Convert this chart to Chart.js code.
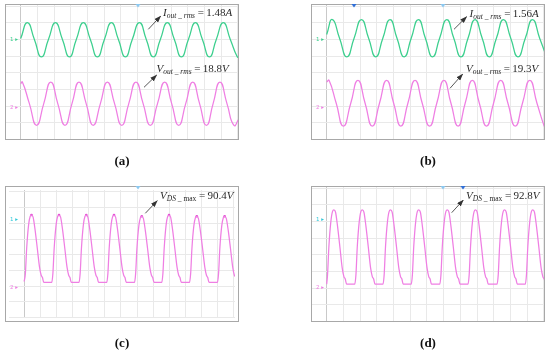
<!DOCTYPE html>
<html><head><meta charset="utf-8">
<script src="https://cdn.jsdelivr.net/npm/chart.js@4.4.1/dist/chart.umd.min.js"></script>
<style>
body{margin:0;background:#fff;}
#wrap{position:relative;width:550px;height:351px;overflow:hidden;background:#fff;}
.panel{position:absolute;width:234px;height:136px;}
.panel canvas{position:absolute;left:0;top:0;}
.frame{position:absolute;left:0;top:0;width:234px;height:136px;box-sizing:border-box;border:1.5px solid #a8a8a8;pointer-events:none;}
.ann{position:absolute;white-space:nowrap;color:#2a2a2a;font-family:'Liberation Serif',serif;font-size:11px;line-height:11px;}
.ann sub{font-size:7.5px;line-height:0;vertical-align:-2px;}
.lab{position:absolute;font-family:'Liberation Serif',serif;font-weight:bold;font-size:13px;line-height:13px;transform:translateX(-50%);color:#111;}
.ch{position:absolute;font-family:'DejaVu Sans',sans-serif;font-size:5.5px;line-height:6px;}
svg{position:absolute;left:0;top:0;}
</style>
</head><body>
<div id="wrap">
  <div class="panel" style="left:5px;top:4px"><canvas id="ca" width="234" height="136"></canvas><div class="frame"></div></div>
  <div class="panel" style="left:311px;top:4px"><canvas id="cb" width="234" height="136"></canvas><div class="frame"></div></div>
  <div class="panel" style="left:5px;top:186px"><canvas id="cc" width="234" height="136"></canvas><div class="frame"></div></div>
  <div class="panel" style="left:311px;top:186px"><canvas id="cd" width="234" height="136"></canvas><div class="frame"></div></div>

  <div class="ch" style="left:10px;top:36px;color:#3ccf8e">1 ▸</div>
  <div class="ch" style="left:10px;top:104px;color:#ef7fe3">2 ▸</div>
  <div class="ch" style="left:316px;top:36px;color:#3ccf8e">1 ▸</div>
  <div class="ch" style="left:316px;top:104px;color:#ef7fe3">2 ▸</div>
  <div class="ch" style="left:10px;top:216px;color:#30c8d8">1 ▸</div>
  <div class="ch" style="left:10px;top:284px;color:#ef7fe3">2 ▸</div>
  <div class="ch" style="left:316px;top:216px;color:#30c8d8">1 ▸</div>
  <div class="ch" style="left:316px;top:284px;color:#ef7fe3">2 ▸</div>

  <svg width="550" height="351">
    <defs><marker id="ah" markerWidth="7" markerHeight="5" refX="6.5" refY="2.5" orient="auto" markerUnits="userSpaceOnUse"><path d="M0,0 L7,2.5 L0,5 z" fill="#333"/></marker></defs>
    <g stroke="#444" stroke-width="0.9" marker-end="url(#ah)">
      <line x1="148.3" y1="29.3" x2="160.7" y2="16"/>
      <line x1="144" y1="87.3" x2="156.7" y2="75"/>
      <line x1="454" y1="29.3" x2="466.7" y2="16.7"/>
      <line x1="450" y1="88.3" x2="462.7" y2="74"/>
      <line x1="145.3" y1="213.3" x2="157.3" y2="200.7"/>
      <line x1="451.7" y1="212.7" x2="463.3" y2="200"/>
    </g>
    <g>
      <path d="M135.5,4 L140.5,4 L138,7.5 z" fill="#8cc8f0"/>
      <path d="M351.5,4 L356.5,4 L354,7.5 z" fill="#2f6fd8"/>
      <path d="M440.5,4 L445.5,4 L443,7.5 z" fill="#8cc8f0"/>
      <path d="M135.5,186 L140.5,186 L138,189.5 z" fill="#8cc8f0"/>
      <path d="M440.5,186 L445.5,186 L443,189.5 z" fill="#8cc8f0"/>
      <path d="M460.5,186 L465.5,186 L463,189.5 z" fill="#2f6fd8"/>
    </g>
  </svg>

  <div class="ann" style="left:163px;top:7.3px"><i>I</i><sub><i>out _ rms</i></sub> =&thinsp;1.48<i>A</i></div>
  <div class="ann" style="left:156.5px;top:63.3px"><i>V</i><sub><i>out _ rms</i></sub> =&thinsp;18.8<i>V</i></div>
  <div class="ann" style="left:469.5px;top:7.8px"><i>I</i><sub><i>out _ rms</i></sub> =&thinsp;1.56<i>A</i></div>
  <div class="ann" style="left:466px;top:62.8px"><i>V</i><sub><i>out _ rms</i></sub> =&thinsp;19.3<i>V</i></div>
  <div class="ann" style="left:160px;top:189.8px"><i>V</i><sub><i>DS</i> _ max</sub> =&thinsp;90.4<i>V</i></div>
  <div class="ann" style="left:466px;top:189.8px"><i>V</i><sub><i>DS</i> _ max</sub> =&thinsp;92.8<i>V</i></div>

  <div class="lab" style="left:122px;top:154px">(a)</div>
  <div class="lab" style="left:428px;top:154px">(b)</div>
  <div class="lab" style="left:122px;top:336px">(c)</div>
  <div class="lab" style="left:428px;top:336px">(d)</div>
</div>
<script>
// Time axis in screen divisions, vertical axis in divisions (0 = bottom graticule line)
const gridX = [0,1,2,3,4,5,6,7,8,9,10,11,12,13];
const gridY = [0,1,2,3,4,5,6,7,8];

// (a) output current (green) and output voltage (magenta)
const tGreenA = [0,0.40,0.82,1.24,1.66,2.08,2.50,2.92,3.33,3.75,4.17,4.59,5.01,5.43,5.85,6.27,6.68,7.11,7.52,7.94,8.36,8.78,9.20,9.62,10.04,10.46,10.88,11.30,11.71,12.13,12.55,12.97,13.07];
const vGreenA = [6.05,7.0,6.0,4.95,6.0,7.0,6.0,4.95,6.0,7.0,6.0,4.95,6.0,7.0,6.0,4.95,6.0,7.0,6.0,4.95,6.0,7.0,6.0,4.95,6.0,7.0,6.0,4.95,6.0,7.0,6.0,4.95,5.0];
const tMagA = [0,0.10,0.52,0.95,1.38,1.80,2.22,2.65,3.07,3.49,3.92,4.34,4.77,5.19,5.62,6.05,6.47,6.90,7.33,7.76,8.19,8.62,9.04,9.46,9.88,10.30,10.71,11.12,11.52,11.93,12.35,12.77,13.07];
const vMagA = [3.35,3.45,2.16,0.86,2.16,3.45,2.16,0.86,2.16,3.45,2.16,0.86,2.16,3.45,2.16,0.86,2.16,3.45,2.16,0.86,2.16,3.45,2.16,0.86,2.16,3.45,2.16,0.86,2.16,3.45,2.16,0.86,1.25];

// (b)
const tGreenB = [0,0.34,0.77,1.21,1.64,2.08,2.51,2.94,3.36,3.79,4.21,4.64,5.06,5.49,5.91,6.34,6.76,7.19,7.61,8.04,8.46,8.88,9.31,9.73,10.16,10.58,11.02,11.45,11.89,12.32,12.75,13.07];
const vGreenB = [6.3,7.19,6.07,4.95,6.07,7.19,6.07,4.95,6.07,7.19,6.07,4.95,6.07,7.19,6.07,4.95,6.07,7.19,6.07,4.95,6.07,7.19,6.07,4.95,6.07,7.19,6.07,4.95,6.07,7.19,6.07,5.2];
const tMagB = [0,0.14,0.57,1.00,1.44,1.87,2.30,2.73,3.16,3.59,4.01,4.44,4.86,5.29,5.72,6.16,6.59,7.02,7.44,7.87,8.29,8.72,9.14,9.57,9.99,10.42,10.85,11.29,11.72,12.16,12.59,13.02,13.07];
const vMagB = [3.45,3.55,2.18,0.81,2.18,3.55,2.18,0.81,2.18,3.55,2.18,0.81,2.18,3.55,2.18,0.81,2.18,3.55,2.18,0.81,2.18,3.55,2.18,0.81,2.18,3.55,2.18,0.81,2.18,3.55,2.18,0.81,0.82];

// (c) drain-source voltage
const tDsC = [0,0.075,0.155,0.275,0.375,0.455,0.555,0.675,0.815,0.955,1.055,1.135,1.215,
  1.71,1.78,1.86,1.98,2.08,2.16,2.26,2.38,2.52,2.66,2.76,2.84,2.92,
  3.40,3.47,3.55,3.67,3.77,3.85,3.95,4.07,4.21,4.35,4.45,4.53,4.61,
  5.12,5.19,5.27,5.39,5.49,5.57,5.67,5.79,5.93,6.07,6.17,6.25,6.33,
  6.84,6.91,6.99,7.11,7.21,7.29,7.39,7.51,7.65,7.79,7.89,7.97,8.05,
  8.53,8.60,8.68,8.80,8.90,8.98,9.08,9.20,9.34,9.48,9.58,9.66,9.74,
  10.25,10.32,10.40,10.52,10.62,10.70,10.80,10.92,11.06,11.20,11.30,11.38,11.46,
  11.98,12.05,12.13,12.25,12.35,12.43,12.53,12.65,12.79,12.93,13.03,13.07];
const vDsC = [2.3,2.8,4.4,5.9,6.45,6.53,6.4,5.6,4.4,3.2,2.7,2.55,2.25,
  2.25,2.8,4.4,5.9,6.45,6.53,6.4,5.6,4.4,3.2,2.7,2.55,2.25,
  2.25,2.8,4.4,5.9,6.45,6.53,6.4,5.6,4.4,3.2,2.7,2.55,2.25,
  2.25,2.8,4.4,5.9,6.45,6.53,6.4,5.6,4.4,3.2,2.7,2.55,2.25,
  2.25,2.8,4.4,5.85,6.37,6.45,6.32,5.55,4.4,3.2,2.7,2.55,2.25,
  2.25,2.8,4.4,5.9,6.45,6.53,6.4,5.6,4.4,3.2,2.7,2.55,2.25,
  2.25,2.8,4.4,5.85,6.37,6.45,6.32,5.55,4.4,3.2,2.7,2.55,2.25,
  2.25,2.8,4.4,5.85,6.37,6.45,6.32,5.55,4.4,3.2,2.7,2.62];
const tPeakC = [0.455,2.16,3.85,5.57,7.29,8.98,10.70,12.43];
const vPeakC = [6.53,6.53,6.53,6.53,6.45,6.53,6.45,6.45];

// (d)
const tDsD = [0,0.05,0.13,0.25,0.35,0.43,0.53,0.65,0.79,0.93,1.03,1.11,1.19,
  1.68,1.75,1.83,1.95,2.05,2.13,2.23,2.35,2.49,2.63,2.73,2.81,2.89,
  3.37,3.44,3.52,3.64,3.74,3.82,3.92,4.04,4.18,4.32,4.42,4.50,4.58,
  5.06,5.13,5.21,5.33,5.43,5.51,5.61,5.73,5.87,6.01,6.11,6.19,6.27,
  6.77,6.84,6.92,7.04,7.14,7.22,7.32,7.44,7.58,7.72,7.82,7.90,7.98,
  8.46,8.53,8.61,8.73,8.83,8.91,9.01,9.13,9.27,9.41,9.51,9.59,9.67,
  10.20,10.27,10.35,10.47,10.57,10.65,10.75,10.87,11.01,11.15,11.25,11.33,11.41,
  11.89,11.96,12.04,12.16,12.26,12.34,12.44,12.56,12.70,12.84,12.94,13.02,13.07];
const vDsD = [2.25,2.8,4.47,6.0,6.6,6.69,6.55,5.7,4.47,3.2,2.7,2.55,2.25,
  2.25,2.8,4.47,6.0,6.6,6.69,6.55,5.7,4.47,3.2,2.7,2.55,2.25,
  2.25,2.8,4.47,6.0,6.6,6.69,6.55,5.7,4.47,3.2,2.7,2.55,2.25,
  2.25,2.8,4.47,6.0,6.6,6.69,6.55,5.7,4.47,3.2,2.7,2.55,2.25,
  2.25,2.8,4.47,6.0,6.6,6.69,6.55,5.7,4.47,3.2,2.7,2.55,2.25,
  2.25,2.8,4.47,6.0,6.6,6.69,6.55,5.7,4.47,3.2,2.7,2.55,2.25,
  2.25,2.8,4.47,6.0,6.6,6.69,6.55,5.7,4.47,3.2,2.7,2.55,2.25,
  2.25,2.8,4.47,6.0,6.6,6.69,6.55,5.7,4.47,3.2,2.7,2.55,2.4];

const GREEN = '#3ccf8e', MAGENTA = '#ef7fe3', PEAKDOT = '#e045cf';

function pts(t, v){ return t.map((x,i)=>({x:x, y:v[i]})); }

function sineSet(t, v, color){
  return {data:pts(t,v), borderColor:color, borderWidth:1.25, tension:0.55, pointRadius:0, fill:false};
}
function pulseSet(t, v, color){
  return {data:pts(t,v), borderColor:color, borderWidth:1.25, cubicInterpolationMode:'monotone', pointRadius:0, fill:false};
}

function makePanel(id, datasets){
  new Chart(document.getElementById(id), {
    type:'line',
    data:{datasets:datasets},
    options:{
      responsive:false, animation:false,
      layout:{padding:0},
      plugins:{legend:{display:false}, tooltip:{enabled:false}},
      scales:{
        x:{type:'linear', min:-0.94, max:13.07,
           afterBuildTicks:s=>{s.ticks = gridX.map(v=>({value:v}));},
           afterFit:s=>{s.height=0;},
           ticks:{display:false},
           border:{display:false},
           grid:{drawTicks:false, lineWidth:1, color:c=> (c.tick && c.tick.value===0) ? '#c9c9c9' : '#e9e9e9'}},
        y:{type:'linear', min:-0.02, max:8.12,
           afterBuildTicks:s=>{s.ticks = gridY.map(v=>({value:v}));},
           afterFit:s=>{s.width=0;},
           ticks:{display:false},
           border:{display:false},
           grid:{drawTicks:false, lineWidth:1, color:'#e9e9e9'}}
      }
    }
  });
}

makePanel('ca', [sineSet(tGreenA, vGreenA, GREEN), sineSet(tMagA, vMagA, MAGENTA)]);
makePanel('cb', [sineSet(tGreenB, vGreenB, GREEN), sineSet(tMagB, vMagB, MAGENTA)]);
makePanel('cc', [pulseSet(tDsC, vDsC, MAGENTA),
  {data:pts(tPeakC, vPeakC), showLine:false, pointRadius:1.3, pointBorderWidth:0, pointBackgroundColor:PEAKDOT, borderColor:PEAKDOT}]);
makePanel('cd', [pulseSet(tDsD, vDsD, MAGENTA)]);
</script>
</body></html>
